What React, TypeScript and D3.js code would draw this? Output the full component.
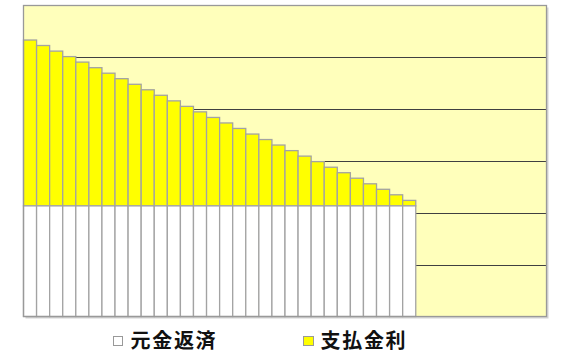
import React from "react";
import * as d3 from "d3";

// Repayment years (40-year frame, loan runs 30 years)
const years: number[] = Array.from({ length: 40 }, (_, i) => i + 1);

// Principal repaid each year (万円)
const principal: number[] = [
  106.7, 106.7, 106.7, 106.7, 106.7, 106.7, 106.7, 106.7, 106.7, 106.7,
  106.7, 106.7, 106.7, 106.7, 106.7, 106.7, 106.7, 106.7, 106.7, 106.7,
  106.7, 106.7, 106.7, 106.7, 106.7, 106.7, 106.7, 106.7, 106.7, 106.7,
];

// Interest paid each year (万円)
const interest: number[] = [
  160, 154.7, 149.3, 144, 138.7, 133.3, 128, 122.7, 117.3, 112,
  106.7, 101.3, 96, 90.7, 85.3, 80, 74.7, 69.3, 64, 58.7,
  53.3, 48, 42.7, 37.3, 32, 26.7, 21.3, 16, 10.7, 5.3,
];

const yTicks: number[] = [50, 100, 150, 200, 250];
const legendLabels: string[] = ["元金返済", "支払金利"];

const W = 563;
const H = 352;
const plot = { left: 23.5, right: 546.5, top: 5.5, bottom: 316.5 };

export default function App() {
  const x = d3
    .scaleBand<number>()
    .domain(years)
    .range([plot.left, plot.right])
    .padding(0);
  const y = d3.scaleLinear().domain([0, 300]).range([plot.bottom, plot.top]);

  const stroke = "#a3a3a3";
  const font = "'Noto Sans CJK JP', 'Noto Sans', sans-serif";

  return (
    <svg
      width={W}
      height={H}
      style={{ position: "absolute", left: 0, top: 0, background: "#fff" }}
    >
      {/* plot area shadow */}
      <rect
        x={plot.left + 2}
        y={plot.top + 2}
        width={plot.right - plot.left}
        height={plot.bottom - plot.top}
        fill="#d4d4d4"
      />
      <rect
        x={plot.left}
        y={plot.top}
        width={plot.right - plot.left}
        height={plot.bottom - plot.top}
        fill="#ffffbb"
      />
      {/* horizontal gridlines */}
      {yTicks.map((t) => (
        <line
          key={t}
          x1={plot.left}
          x2={plot.right}
          y1={Math.round(y(t)) + 0.5}
          y2={Math.round(y(t)) + 0.5}
          stroke="#404040"
          strokeWidth={1}
        />
      ))}
      {/* stacked bars */}
      {principal.map((p, i) => {
        const yr = years[i];
        const bx = x(yr)!;
        const bw = x.bandwidth();
        const yP = y(p);
        const yT = y(p + interest[i]);
        return (
          <g key={yr}>
            <rect
              x={bx}
              y={yT}
              width={bw}
              height={yP - yT}
              fill="#ffff00"
              stroke={stroke}
              strokeWidth={1.3}
            />
            <rect
              x={bx}
              y={yP}
              width={bw}
              height={y(0) - yP}
              fill="#ffffff"
              stroke={stroke}
              strokeWidth={1.3}
            />
          </g>
        );
      })}
      {/* plot border */}
      <rect
        x={plot.left}
        y={plot.top}
        width={plot.right - plot.left}
        height={plot.bottom - plot.top}
        fill="none"
        stroke="#999999"
        strokeWidth={1.3}
      />
      {/* legend */}
      <g fontFamily={font} fontWeight="bold" fontSize={20} letterSpacing={1.7} fill="#111">
        <rect x={113.5} y={336.5} width={9} height={9} fill="#ffffff" stroke="#999" />
        <text x={130.5} y={347.5}>{legendLabels[0]}</text>
        <rect x={303.5} y={336.5} width={10} height={9} fill="#ffff00" stroke="#999" />
        <text x={320.5} y={347.5}>{legendLabels[1]}</text>
      </g>
    </svg>
  );
}
